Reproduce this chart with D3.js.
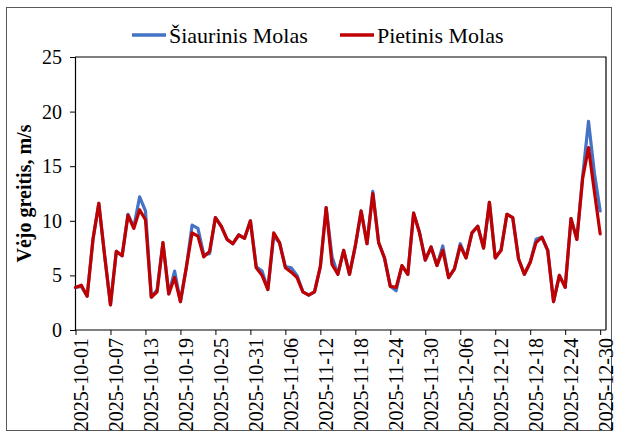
<!DOCTYPE html>
<html>
<head>
<meta charset="utf-8">
<script src="https://cdn.jsdelivr.net/npm/d3@7"></script>
<style>
  body { margin: 0; background: #fff; }
  svg { display: block; font-family: "Liberation Serif", "Times New Roman", serif; }
</style>
</head>
<body>
<svg id="chart" width="618" height="437"></svg>
<script>
// categories: daily dates 2025-10-01 .. 2025-12-30
const startDate = new Date(Date.UTC(2025, 9, 1))
const endDate = new Date(Date.UTC(2025, 11, 31))
const dates = d3.utcDay.range(startDate, endDate)

const seriesNames = ["Šiaurinis Molas", "Pietinis Molas"]
const seriesColors = ["#4472c4", "#c00000"]

// Šiaurinis Molas (m/s)
const north = [
  3.9, 4.0, 3.1, 8.3, 11.6, 6.8, 2.3, 7.2, 6.8, 10.6,
  9.4, 12.2, 10.9, 3.0, 3.7, 8.0, 3.3, 5.4, 2.6, 5.7,
  9.6, 9.3, 6.9, 7.0, 10.3, 9.5, 8.3, 7.9, 8.7, 8.4,
  10.0, 5.8, 5.4, 3.7, 8.6, 8.0, 5.8, 5.7, 5.0, 3.5,
  3.2, 3.5, 5.8, 11.2, 6.7, 5.1, 7.3, 5.1, 7.7, 10.9,
  7.9, 12.7, 8.0, 6.6, 4.0, 3.6, 5.9, 5.1, 10.7, 9.0,
  6.4, 7.6, 5.9, 7.7, 4.8, 5.6, 7.9, 6.6, 8.9, 9.5,
  7.5, 11.7, 6.6, 7.3, 10.6, 10.3, 6.5, 5.1, 6.2, 8.3,
  8.5, 7.3, 2.6, 5.0, 3.9, 10.2, 8.3, 14.1, 19.1, 14.4,
  10.9
]

// Pietinis Molas (m/s)
const south = [
  3.9, 4.1, 3.1, 8.3, 11.6, 6.8, 2.3, 7.2, 6.8, 10.5,
  9.3, 11.0, 10.1, 3.0, 3.5, 8.0, 3.3, 4.8, 2.6, 5.7,
  8.9, 8.6, 6.7, 7.2, 10.3, 9.5, 8.3, 7.9, 8.7, 8.4,
  10.0, 5.7, 5.0, 3.7, 8.9, 8.0, 5.7, 5.3, 4.8, 3.5,
  3.2, 3.5, 5.8, 11.2, 6.0, 5.1, 7.3, 5.1, 7.7, 10.9,
  7.9, 12.5, 8.0, 6.6, 4.0, 3.9, 5.9, 5.1, 10.7, 8.9,
  6.4, 7.6, 5.9, 7.3, 4.8, 5.6, 7.7, 6.6, 8.9, 9.5,
  7.5, 11.7, 6.6, 7.3, 10.6, 10.3, 6.5, 5.1, 6.2, 8.0,
  8.5, 7.3, 2.6, 5.0, 3.9, 10.2, 8.3, 13.9, 16.7, 12.7,
  8.8
]

const yTicks = [0, 5, 10, 15, 20, 25]
const tickEvery = 6
const yLabel = "Vėjo greitis, m/s"

const svg = d3.select("#chart")
const margin = { left: 75, right: 12, top: 57, bottom: 107 }
const W = 618, H = 437

// outer frame
svg.append("rect")
  .attr("x", 6.5).attr("y", 7.5)
  .attr("width", W - 13).attr("height", H - 14)
  .attr("fill", "none")
  .attr("stroke", "#595959")
  .attr("stroke-width", 1)

const x = d3.scaleLinear()
  .domain([0, dates.length])
  .range([margin.left + 0.5, W - margin.right])

const y = d3.scaleLinear()
  .domain([0, 25])
  .range([H - margin.bottom, margin.top])

// plot area border (top + right)
svg.append("path")
  .attr("d", `M${margin.left},${y(25)}H${W - margin.right}V${y(0)}`)
  .attr("fill", "none")
  .attr("stroke", "#000")
  .attr("stroke-width", 1.2)

// y axis
const yAxis = svg.append("g")
  .attr("transform", `translate(${margin.left},0)`)
  .call(d3.axisLeft(y).tickValues(yTicks).tickSize(5).tickPadding(8))
yAxis.select(".domain").attr("stroke", "#000").attr("stroke-width", 1.2)
yAxis.selectAll(".tick line").attr("stroke", "#000")
yAxis.selectAll("text")
  .attr("font-family", "Liberation Serif")
  .attr("font-size", 20)
  .attr("fill", "#000")

// x axis
const tickIdx = d3.range(0, dates.length, tickEvery)
const fmt = d3.utcFormat("%Y-%m-%d")
const xAxis = svg.append("g")
  .attr("transform", `translate(0,${y(0)})`)
  .call(d3.axisBottom(x).tickValues(tickIdx).tickSize(5).tickFormat(i => fmt(dates[i])))
xAxis.select(".domain")
  .attr("d", `M${margin.left},0H${W - margin.right}`)
  .attr("stroke", "#000").attr("stroke-width", 1.2)
xAxis.selectAll(".tick line").attr("stroke", "#000")
xAxis.selectAll("text")
  .attr("font-family", "Liberation Serif")
  .attr("font-size", 20)
  .attr("fill", "#000")
  .attr("text-anchor", "end")
  .attr("transform", "rotate(-90)")
  .attr("x", -8)
  .attr("y", 0)
  .attr("dy", "0.6em")

// y label
svg.append("text")
  .attr("transform", `translate(24,${(y(0) + y(25)) / 2}) rotate(-90)`)
  .attr("text-anchor", "middle")
  .attr("dy", "0.35em")
  .attr("font-size", 20)
  .attr("font-weight", "bold")
  .text(yLabel)

// lines
const line = d3.line()
  .x((d, i) => x(i))
  .y(d => y(d))

;[north, south].forEach((s, k) => {
  svg.append("path")
    .datum(s)
    .attr("fill", "none")
    .attr("stroke", seriesColors[k])
    .attr("stroke-width", 3.2)
    .attr("stroke-linejoin", "round")
    .attr("stroke-linecap", "round")
    .attr("d", line)
})

// legend
const legendX = [132, 340]
seriesNames.forEach((name, k) => {
  const g = svg.append("g").attr("transform", `translate(${legendX[k]},35)`)
  g.append("line")
    .attr("x1", 0).attr("x2", 34)
    .attr("stroke", seriesColors[k])
    .attr("stroke-width", 3.5)
  g.append("text")
    .attr("x", 37)
    .attr("dy", "0.35em")
    .attr("font-size", 22)
    .text(name)
})
</script>
</body>
</html>
